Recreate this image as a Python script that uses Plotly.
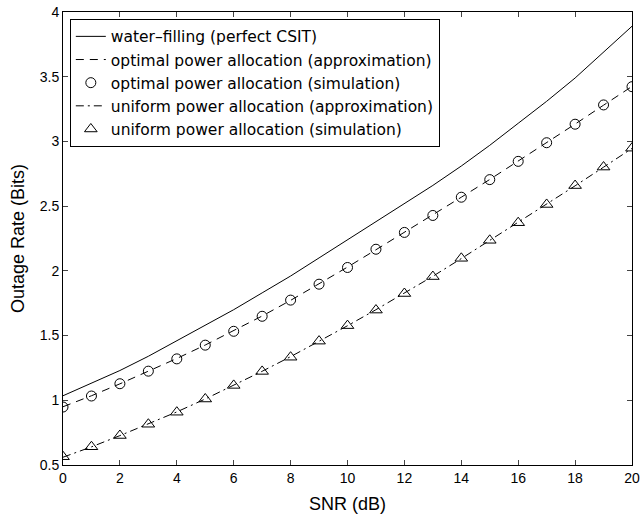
import plotly.graph_objects as go

# SNR grid (dB)
snr = list(range(0, 21))

# Outage rate (bits) for each scheme
water_filling = [1.035, 1.13, 1.23, 1.34, 1.46, 1.58, 1.70, 1.83, 1.96, 2.10, 2.24,
                 2.38, 2.52, 2.66, 2.81, 2.97, 3.14, 3.31, 3.49, 3.69, 3.89]
optimal_approx = [0.95, 1.035, 1.127, 1.224, 1.323, 1.427, 1.536, 1.651, 1.772, 1.898, 2.029,
                  2.163, 2.297, 2.432, 2.569, 2.706, 2.847, 2.989, 3.134, 3.280, 3.425]
optimal_sim = [0.948, 1.033, 1.128, 1.225, 1.32, 1.426, 1.533, 1.649, 1.774, 1.897, 2.026,
               2.167, 2.297, 2.428, 2.569, 2.705, 2.846, 2.99, 3.133, 3.282, 3.423]
uniform_approx = [0.56, 0.64, 0.727, 0.816, 0.91, 1.01, 1.115, 1.224, 1.337, 1.455, 1.576,
                  1.70, 1.826, 1.958, 2.095, 2.234, 2.373, 2.514, 2.657, 2.801, 2.946]
uniform_sim = [0.564, 0.641, 0.728, 0.815, 0.908, 1.01, 1.115, 1.223, 1.333, 1.457, 1.577,
               1.697, 1.825, 1.956, 2.097, 2.236, 2.372, 2.513, 2.659, 2.802, 2.948]

FONT = "Liberation Sans, Arial, Helvetica, sans-serif"
LEGEND_FONT = "DejaVu Sans, Liberation Sans, Arial, sans-serif"

fig = go.Figure()
fig.add_trace(go.Scatter(x=snr, y=water_filling, mode="lines",
                         name="water\u2013filling (perfect CSIT)",
                         line=dict(color="black", width=1)))
fig.add_trace(go.Scatter(x=snr, y=optimal_approx, mode="lines",
                         name="optimal power allocation (approximation)",
                         line=dict(color="black", width=1, dash="8px,6px")))
fig.add_trace(go.Scatter(x=snr, y=optimal_sim, mode="markers",
                         name="optimal power allocation (simulation)",
                         marker=dict(symbol="circle-open", size=10, color="black",
                                     line=dict(width=1))))
fig.add_trace(go.Scatter(x=snr, y=uniform_approx, mode="lines",
                         name="uniform power allocation (approximation)",
                         line=dict(color="black", width=1, dash="8px,4px,2px,4px")))
fig.add_trace(go.Scatter(x=snr, y=uniform_sim, mode="markers",
                         name="uniform power allocation (simulation)",
                         marker=dict(symbol="triangle-up-open", size=11, color="black",
                                     line=dict(width=1))))

axis_common = dict(
    showgrid=False, zeroline=False,
    showline=True, linecolor="black", linewidth=1, mirror="ticks",
    ticks="inside", ticklen=5, tickcolor="#444", tickwidth=1,
    tickfont=dict(family=FONT, size=14, color="black"),
)

fig.update_layout(
    width=644, height=517,
    margin=dict(l=63, r=4, t=10, b=52),
    paper_bgcolor="white", plot_bgcolor="white",
    font=dict(family=FONT, color="black"),
    xaxis=dict(range=[0, 20], dtick=2, tick0=0, ticklabeloverflow="allow",
               title=dict(text="SNR (dB)", font=dict(family=FONT, size=18), standoff=12),
               **axis_common),
    yaxis=dict(range=[0.5, 4], dtick=0.5, tick0=0.5,
               title=dict(text="Outage Rate (Bits)", font=dict(family=FONT, size=18), standoff=10),
               **axis_common),
    legend=dict(x=0.012, y=0.985, xanchor="left", yanchor="top",
                bgcolor="white", bordercolor="black", borderwidth=1,
                font=dict(family=LEGEND_FONT, size=15.5, color="black"),
                tracegroupgap=0),
    showlegend=True,
)

fig.write_html("out.html")
